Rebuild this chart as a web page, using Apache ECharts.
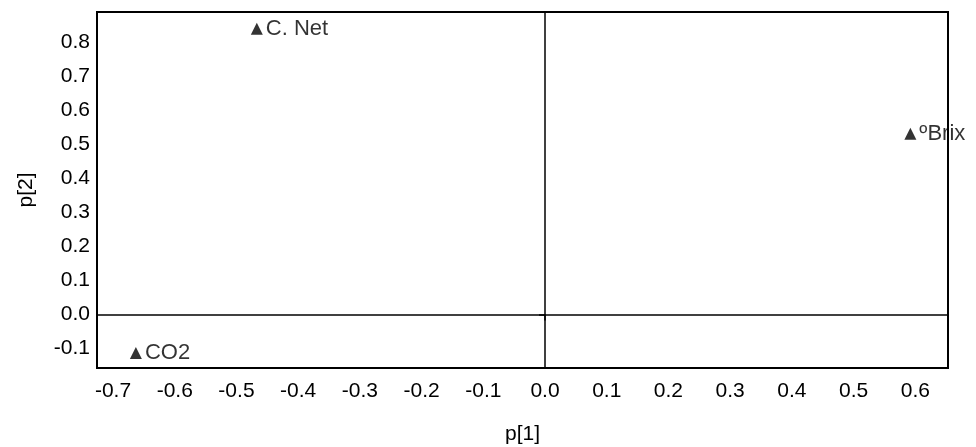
<!DOCTYPE html>
<html>
<head>
<meta charset="utf-8">
<script src="https://cdn.jsdelivr.net/npm/echarts@6/dist/echarts.min.js"></script>
<style>
  html, body { margin: 0; padding: 0; background: #fff; }
  #chart { width: 976px; height: 447px; }
</style>
</head>
<body>
<div id="chart"></div>
<script>
// loadings p[1] / p[2]
const names = ['C. Net', 'ºBrix', 'CO2'];
const p1 = [-0.467, 0.592, -0.663];
const p2 = [0.840, 0.531, -0.113];
const xTicks = [-0.7, -0.6, -0.5, -0.4, -0.3, -0.2, -0.1, 0, 0.1, 0.2, 0.3, 0.4, 0.5, 0.6];
const yTicks = [-0.1, 0, 0.1, 0.2, 0.3, 0.4, 0.5, 0.6, 0.7, 0.8];

const chart = echarts.init(document.getElementById('chart'));
const font = 'Liberation Sans, Arial, sans-serif';

const option = {
  animation: false,
  grid: {
    left: 97, right: 28, top: 12, bottom: 79,
    outerBoundsMode: 'none',
    containLabel: false,
    show: true,
    borderColor: '#000',
    borderWidth: 2
  },
  xAxis: {
    type: 'value',
    min: -0.726,
    max: 0.653,
    name: 'p[1]',
    nameLocation: 'middle',
    nameGap: 56,
    nameTextStyle: { color: '#000', fontSize: 21, fontFamily: font },
    axisLine: { show: false },
    axisTick: { show: true, customValues: [0], length: 6, lineStyle: { color: '#000', width: 1.5 } },
    splitLine: { show: false },
    axisLabel: {
      customValues: xTicks,
      color: '#000',
      fontSize: 21,
      fontFamily: font,
      margin: 13,
      formatter: v => v.toFixed(1)
    }
  },
  yAxis: {
    type: 'value',
    min: -0.157,
    max: 0.889,
    name: 'p[2]',
    nameLocation: 'middle',
    nameGap: 60,
    nameTextStyle: { color: '#000', fontSize: 21, fontFamily: font },
    axisLine: { show: false },
    axisTick: { show: true, customValues: [0], length: 6, lineStyle: { color: '#000', width: 1.5 } },
    splitLine: { show: false },
    axisLabel: {
      customValues: yTicks,
      color: '#000',
      fontSize: 21,
      fontFamily: font,
      margin: 7,
      formatter: v => v.toFixed(1)
    }
  },
  series: [{
    type: 'scatter',
    symbol: 'triangle',
    symbolSize: 12,
    itemStyle: { color: '#000' },
    data: names.map((n, i) => ({ name: n, value: [p1[i], p2[i]] })),
    label: {
      show: true,
      position: 'right',
      distance: 3,
      formatter: '{b}',
      color: '#000',
      fontSize: 22,
      fontFamily: font
    },
    markLine: {
      silent: true,
      symbol: 'none',
      label: { show: false },
      lineStyle: { color: '#000', type: 'solid', width: 1.5 },
      data: [{ xAxis: 0 }, { yAxis: 0 }]
    }
  }]
};

chart.setOption(option);
</script>
</body>
</html>
